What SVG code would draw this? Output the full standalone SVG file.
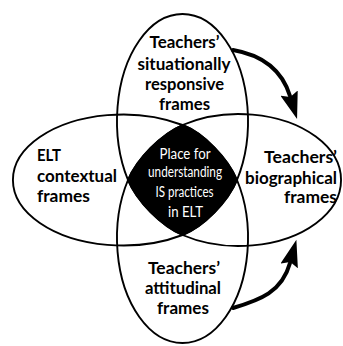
<svg xmlns="http://www.w3.org/2000/svg" width="343" height="346" viewBox="0 0 343 346">
  <style>
    .frame { fill: none; stroke: #000; stroke-width: 1.9; stroke-linejoin: round; }
    .lbl { font-family: Lato, "Open Sans", "Liberation Sans", sans-serif; font-weight: bold; font-size: 17px; fill: #000; }
    .core { font-family: Lato, "Open Sans", "Liberation Sans", sans-serif; font-size: 15.5px; fill: #fff; }
    .mid { text-anchor: middle; }
    .end { text-anchor: end; }
    .flow { fill: none; stroke: #000; stroke-width: 4; stroke-linecap: round; }
  </style>
  <defs>
    <marker id="head" markerUnits="userSpaceOnUse" markerWidth="28" markerHeight="18" refX="3" refY="9" orient="auto">
      <path d="M0,0 L27,9 L0,18 L4,9 z" fill="#000"/>
    </marker>
  </defs>

  <rect width="343" height="346" fill="#fff"/>

  <!-- shared area where all four frames overlap -->
  <path id="core-area" fill="#000" d="M182.5,125 C203.96,133.26 228.15,158.77 237,180 C228.31,201.3 203.96,226.74 182.5,235 C161.36,225.94 136.69,201.3 128,180 C136.86,158.77 161.36,134.06 182.5,125 Z"/>

  <g id="situational">
    <path class="frame" d="M128,180 A65.5,106.8 0 1 1 237,180 C228.31,201.3 203.96,226.74 182.5,235 C161.36,225.94 136.69,201.3 128,180 Z"/>
    <text class="lbl mid" x="184.5" y="47.5" textLength="70" lengthAdjust="spacingAndGlyphs">Teachers’</text>
    <text class="lbl mid" x="184" y="69.5" textLength="93" lengthAdjust="spacingAndGlyphs">situationally</text>
    <text class="lbl mid" x="184.5" y="90" textLength="79" lengthAdjust="spacingAndGlyphs">responsive</text>
    <text class="lbl mid" x="184.5" y="110" textLength="51" lengthAdjust="spacingAndGlyphs">frames</text>
  </g>

  <g id="attitudinal">
    <path class="frame" d="M237,180 A65.5,104.8 0 1 1 128,180 C136.86,158.77 161.36,134.06 182.5,125 C203.96,133.26 228.15,158.77 237,180 Z"/>
    <text class="lbl mid" x="184" y="273.5" textLength="72" lengthAdjust="spacingAndGlyphs">Teachers’</text>
    <text class="lbl mid" x="183" y="294" textLength="76" lengthAdjust="spacingAndGlyphs">attitudinal</text>
    <text class="lbl mid" x="183" y="314" textLength="52" lengthAdjust="spacingAndGlyphs">frames</text>
  </g>

  <g id="contextual">
    <path class="frame" d="M182.5,125 A109.9,65.5 0 1 0 182.5,235 C203.96,226.74 228.31,201.3 237,180 C228.15,158.77 203.96,133.26 182.5,125 Z"/>
    <text class="lbl" x="37" y="161" textLength="24" lengthAdjust="spacingAndGlyphs">ELT</text>
    <text class="lbl" x="37" y="181.5" textLength="80" lengthAdjust="spacingAndGlyphs">contextual</text>
    <text class="lbl" x="37" y="201.5" textLength="53" lengthAdjust="spacingAndGlyphs">frames</text>
  </g>

  <g id="biographical">
    <path class="frame" d="M182.5,125 A102.1,66 0 1 1 182.5,235 C161.36,225.94 136.69,201.3 128,180 C136.86,158.77 161.36,134.06 182.5,125 Z"/>
    <text class="lbl end" x="337" y="163" textLength="73" lengthAdjust="spacingAndGlyphs">Teachers’</text>
    <text class="lbl end" x="337" y="183.5" textLength="92" lengthAdjust="spacingAndGlyphs">biographical</text>
    <text class="lbl end" x="337" y="203" textLength="53" lengthAdjust="spacingAndGlyphs">frames</text>
  </g>

  <g id="core-label">
    <text class="core mid" x="185" y="158.5" textLength="51" lengthAdjust="spacingAndGlyphs">Place for</text>
    <text class="core mid" x="185" y="177" textLength="74" lengthAdjust="spacingAndGlyphs">understanding</text>
    <text class="core mid" x="184.5" y="197" textLength="58" lengthAdjust="spacingAndGlyphs">IS practices</text>
    <text class="core mid" x="185.5" y="216.5" textLength="35" lengthAdjust="spacingAndGlyphs">in ELT</text>
  </g>

  <g id="connectors">
    <path class="flow" d="M233,50 C262,55 282,70 290,96" marker-end="url(#head)"/>
    <path class="flow" d="M233,308 C260,300 282,292 290,263" marker-end="url(#head)"/>
  </g>
</svg>
